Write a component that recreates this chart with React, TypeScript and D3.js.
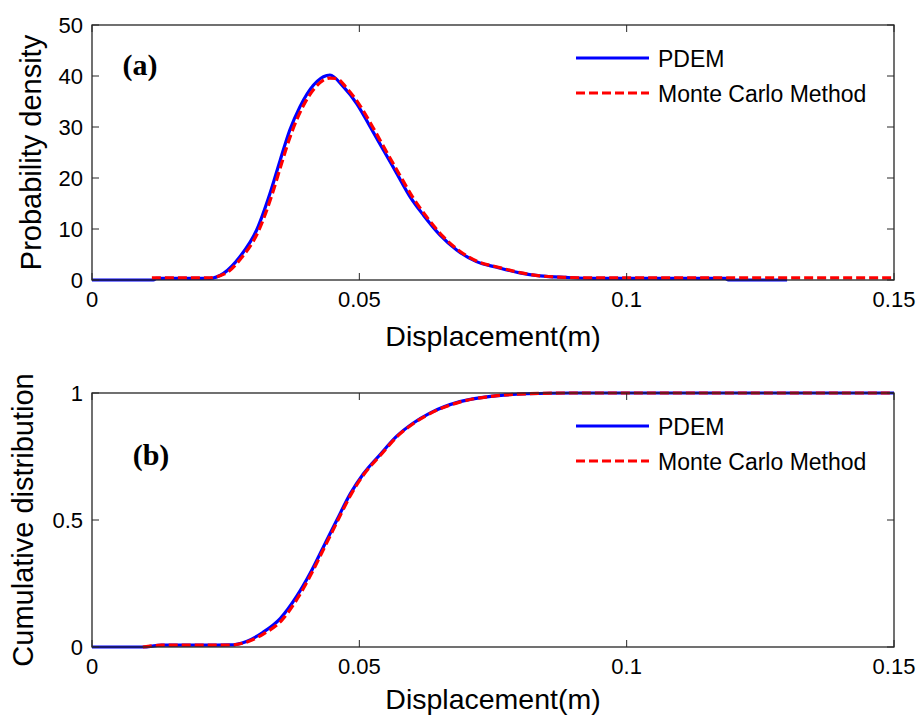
import * as d3 from "d3";

// (a) probability density, x = displacement (m)
const pdfPdemX = [0, 0.0115, 0.012, 0.022, 0.0246, 0.0277, 0.0308, 0.0333, 0.0352, 0.037, 0.0389, 0.0414, 0.0439, 0.0445, 0.047, 0.0495, 0.052, 0.0545, 0.057, 0.0595, 0.062, 0.0651, 0.0682, 0.0719, 0.0757, 0.08, 0.0838, 0.0888, 0.095, 0.1185, 0.119, 0.13];
const pdfPdemY = [0, 0, 0.3, 0.3, 1.3, 4.6, 9.8, 17, 23.5, 29.4, 34, 38.2, 40.1, 40.2, 37.9, 34.6, 30.1, 25.5, 20.9, 16.3, 12.7, 8.8, 5.9, 3.6, 2.5, 1.4, 0.8, 0.5, 0.3, 0.3, 0, 0];
const pdfMcX = [0.0112, 0.0215, 0.0248, 0.028, 0.0311, 0.0336, 0.0355, 0.0373, 0.0392, 0.0418, 0.0445, 0.0458, 0.0475, 0.05, 0.0525, 0.055, 0.0575, 0.06, 0.0625, 0.0655, 0.0686, 0.0722, 0.076, 0.0803, 0.084, 0.089, 0.095, 0.15];
const pdfMcY = [0.4, 0.4, 1.2, 4.4, 9.5, 16.5, 23, 28.8, 33.5, 37.8, 39.6, 39.5, 37.8, 34.4, 30, 25.3, 20.7, 16.2, 12.5, 8.7, 5.8, 3.6, 2.5, 1.4, 0.8, 0.5, 0.4, 0.4];

// (b) cumulative distribution
const cdfPdemX = [0, 0.0095, 0.013, 0.0258, 0.0289, 0.032, 0.0352, 0.0383, 0.0408, 0.0433, 0.0458, 0.0483, 0.0507, 0.0539, 0.057, 0.0601, 0.0632, 0.0688, 0.075, 0.0813, 0.09, 0.15];
const cdfPdemY = [0, 0, 0.007, 0.008, 0.022, 0.058, 0.112, 0.2, 0.29, 0.395, 0.5, 0.603, 0.68, 0.758, 0.83, 0.882, 0.921, 0.966, 0.988, 0.997, 1, 1];
const cdfMcX = [0.0095, 0.013, 0.0262, 0.029, 0.0321, 0.0354, 0.0384, 0.0409, 0.0434, 0.0459, 0.0484, 0.0508, 0.054, 0.0571, 0.0602, 0.0633, 0.0689, 0.0751, 0.0814, 0.09, 0.15];
const cdfMcY = [0, 0.007, 0.008, 0.02, 0.052, 0.103, 0.19, 0.283, 0.389, 0.495, 0.599, 0.678, 0.756, 0.829, 0.881, 0.92, 0.965, 0.988, 0.997, 1, 1];

const xTicks = [0, 0.05, 0.1, 0.15];
const pdfTicks = [0, 10, 20, 30, 40, 50];
const cdfTicks = [0, 0.5, 1];
const seriesNames = ["PDEM", "Monte Carlo Method"];

const sans = "'Liberation Sans', Arial, sans-serif";

function Panel({ top, bottom, yMax, yTicks, pdem, mc, yLabel, tag, tagY, legendY, yLabelX, xLabelDy }) {
  const left = 92;
  const right = 894;
  const x = d3.scaleLinear().domain([0, 0.15]).range([left, right]);
  const y = d3.scaleLinear().domain([0, yMax]).range([bottom, top]);
  const line = d3
    .line<number>()
    .x((d) => x(d[0]))
    .y((d) => y(d[1]))
    .curve(d3.curveMonotoneX);
  const fmt = (v: number) => String(v);
  const tick = 7;

  return (
    <g>
      <path d={line(pdem.x.map((v, i) => [v, pdem.y[i]]))} fill="none" stroke="#0000ff" strokeWidth={3.2} />
      <path
        d={line(mc.x.map((v, i) => [v, mc.y[i]]))}
        fill="none"
        stroke="#ff0000"
        strokeWidth={3.2}
        strokeDasharray="9,4"
      />
      <rect x={left} y={top} width={right - left} height={bottom - top} fill="none" stroke="#262626" strokeWidth={1.3} />
      {xTicks.map((t) => (
        <g key={"x" + t}>
          <line x1={x(t)} x2={x(t)} y1={bottom} y2={bottom - tick} stroke="#262626" strokeWidth={1} />
          <line x1={x(t)} x2={x(t)} y1={top} y2={top + tick} stroke="#262626" strokeWidth={1} />
          <text x={x(t)} y={bottom + 27} textAnchor="middle" fontSize={22} fontFamily={sans} fill="#000">
            {fmt(t)}
          </text>
        </g>
      ))}
      {yTicks.map((t) => (
        <g key={"y" + t}>
          <line x1={left} x2={left + tick} y1={y(t)} y2={y(t)} stroke="#262626" strokeWidth={1} />
          <line x1={right} x2={right - tick} y1={y(t)} y2={y(t)} stroke="#262626" strokeWidth={1} />
          <text x={left - 9} y={y(t) + 8} textAnchor="end" fontSize={22} fontFamily={sans} fill="#000">
            {fmt(t)}
          </text>
        </g>
      ))}
      <text
        x={(left + right) / 2}
        y={bottom + xLabelDy}
        textAnchor="middle"
        fontSize={28.5}
        fontFamily={sans}
        fill="#000"
      >
        Displacement(m)
      </text>
      <text
        transform={`translate(${yLabelX},${(top + bottom) / 2}) rotate(-90)`}
        textAnchor="middle"
        fontSize={29}
        fontFamily={sans}
        fill="#000"
      >
        {yLabel}
      </text>
      <text x={tag.x} y={tagY} textAnchor="middle" fontSize={30} fontWeight="bold" fontFamily="'Liberation Serif', serif" fill="#000">
        ({tag.t})
      </text>
      {seriesNames.map((name, i) => (
        <g key={name}>
          <line
            x1={576}
            x2={649}
            y1={legendY + i * 35}
            y2={legendY + i * 35}
            stroke={i === 0 ? "#0000ff" : "#ff0000"}
            strokeWidth={3.2}
            strokeDasharray={i === 0 ? undefined : "9,4"}
          />
          <text x={658} y={legendY + i * 35 + 9} fontSize={23} fontFamily={sans} fill="#000">
            {name}
          </text>
        </g>
      ))}
    </g>
  );
}

export default function App() {
  return (
    <svg width={921} height={717} style={{ position: "absolute", left: 0, top: 0, background: "#fff" }}>
      <rect width={921} height={717} fill="#fff" />
      <Panel
        top={25}
        bottom={280}
        yMax={50}
        yTicks={pdfTicks}
        pdem={{ x: pdfPdemX, y: pdfPdemY }}
        mc={{ x: pdfMcX, y: pdfMcY }}
        yLabel="Probability density"
        yLabelX={41}
        tag={{ t: "a", x: 140 }}
        tagY={75}
        legendY={58}
        xLabelDy={66}
      />
      <Panel
        top={393}
        bottom={647}
        yMax={1}
        yTicks={cdfTicks}
        pdem={{ x: cdfPdemX, y: cdfPdemY }}
        mc={{ x: cdfMcX, y: cdfMcY }}
        yLabel="Cumulative distribution"
        yLabelX={33}
        tag={{ t: "b", x: 151 }}
        tagY={465}
        legendY={426}
        xLabelDy={62}
      />
    </svg>
  );
}
